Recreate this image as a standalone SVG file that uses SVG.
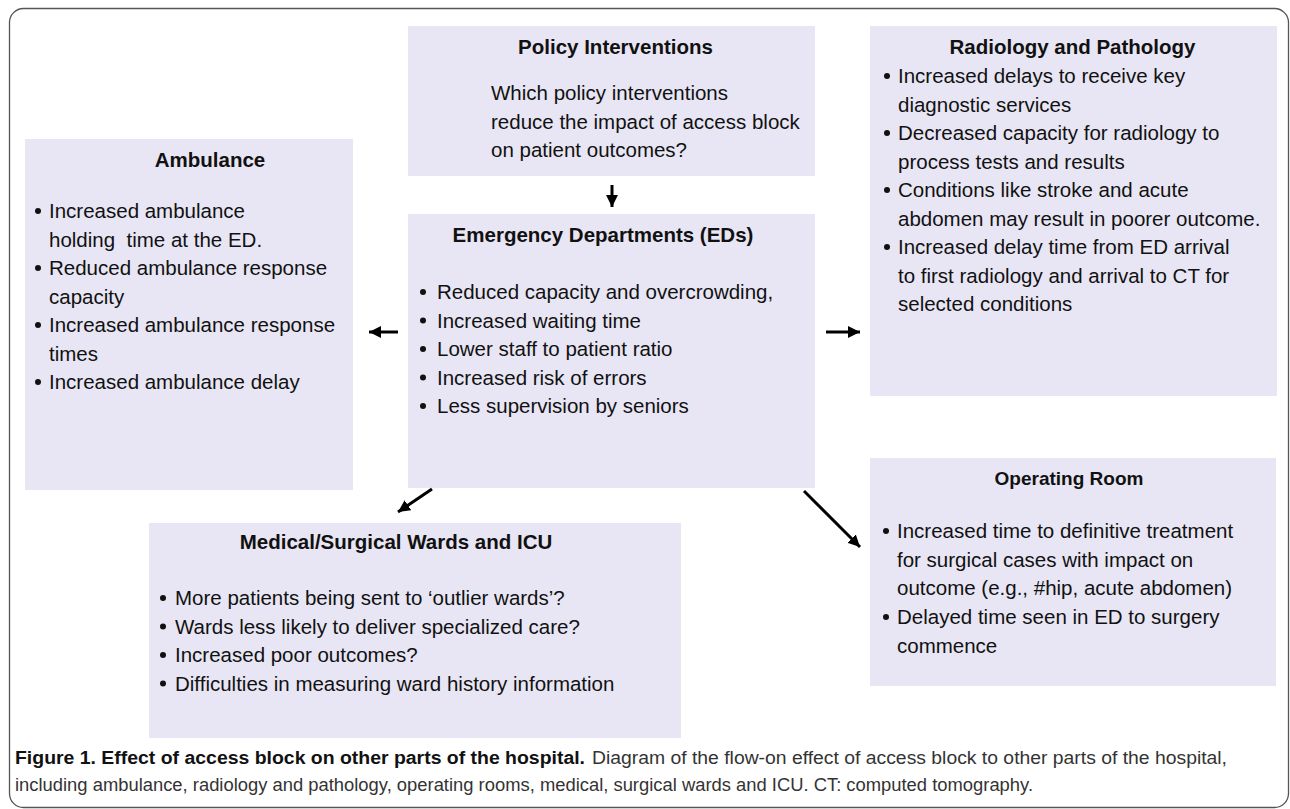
<svg xmlns="http://www.w3.org/2000/svg" width="1290" height="809" viewBox="0 0 1290 809">
<defs>
<style>
.box{fill:#E8E6F4;}
.t{font-family:"Liberation Sans",Arial,sans-serif;font-size:20.5px;font-weight:bold;fill:#111;text-anchor:middle;}
.b{font-family:"Liberation Sans",Arial,sans-serif;font-size:20.5px;fill:#111;}
.d{fill:#111;}
.arr{stroke:#000;stroke-width:3;fill:none;marker-end:url(#ah);}
.cap{font-family:"Liberation Sans",Arial,sans-serif;font-size:17.5px;fill:#333;}
.capb{font-weight:bold;fill:#111;}
</style>
<marker id="ah" markerUnits="userSpaceOnUse" markerWidth="14" markerHeight="12" refX="12" refY="6" orient="auto">
<path d="M0,0 L12,6 L0,12 Z" fill="#000"/>
</marker>
</defs>
<rect x="9.5" y="8.5" width="1279" height="799" rx="14" ry="14" fill="none" stroke="#555" stroke-width="1.3"/>

<g id="policy">
<rect class="box" x="408" y="26" width="407" height="150"/>
<text class="t" x="615.5" y="54">Policy Interventions</text>
<text class="b" x="491" y="100">Which policy interventions</text>
<text class="b" x="491" y="128.5">reduce the impact of access block</text>
<text class="b" x="491" y="157">on patient outcomes?</text>
</g>

<g id="radiology">
<rect class="box" x="870" y="26" width="407" height="370"/>
<text class="t" x="1072.5" y="54">Radiology and Pathology</text>
<circle class="d" cx="887" cy="76" r="3"/>
<text class="b" x="898" y="83">Increased delays to receive key</text>
<text class="b" x="898" y="111.5">diagnostic services</text>
<circle class="d" cx="887" cy="133" r="3"/>
<text class="b" x="898" y="140">Decreased capacity for radiology to</text>
<text class="b" x="898" y="168.5">process tests and results</text>
<circle class="d" cx="887" cy="190" r="3"/>
<text class="b" x="898" y="197">Conditions like stroke and acute</text>
<text class="b" x="898" y="225.5">abdomen may result in poorer outcome.</text>
<circle class="d" cx="887" cy="247" r="3"/>
<text class="b" x="898" y="254">Increased delay time from ED arrival</text>
<text class="b" x="898" y="282.5">to first radiology and arrival to CT for</text>
<text class="b" x="898" y="311">selected conditions</text>
</g>

<g id="ambulance">
<rect class="box" x="25" y="139" width="328" height="351"/>
<text class="t" x="210" y="167">Ambulance</text>
<circle class="d" cx="38" cy="211" r="3"/>
<text class="b" x="49" y="218">Increased ambulance</text>
<text class="b" x="49" y="246.5" xml:space="preserve">holding  time at the ED.</text>
<circle class="d" cx="38" cy="268" r="3"/>
<text class="b" x="49" y="275">Reduced ambulance response</text>
<text class="b" x="49" y="303.5">capacity</text>
<circle class="d" cx="38" cy="325" r="3"/>
<text class="b" x="49" y="332">Increased ambulance response</text>
<text class="b" x="49" y="360.5">times</text>
<circle class="d" cx="38" cy="382" r="3"/>
<text class="b" x="49" y="389">Increased ambulance delay</text>
</g>

<g id="ed">
<rect class="box" x="408" y="214" width="407" height="274"/>
<text class="t" x="603" y="242">Emergency Departments (EDs)</text>
<circle class="d" cx="423" cy="292" r="3"/>
<text class="b" x="437" y="299">Reduced capacity and overcrowding,</text>
<circle class="d" cx="423" cy="320.5" r="3"/>
<text class="b" x="437" y="327.5">Increased waiting time</text>
<circle class="d" cx="423" cy="349" r="3"/>
<text class="b" x="437" y="356">Lower staff to patient ratio</text>
<circle class="d" cx="423" cy="377.5" r="3"/>
<text class="b" x="437" y="384.5">Increased risk of errors</text>
<circle class="d" cx="423" cy="406" r="3"/>
<text class="b" x="437" y="413">Less supervision by seniors</text>
</g>

<g id="wards">
<rect class="box" x="149" y="523" width="532" height="215"/>
<text class="t" x="396" y="549">Medical/Surgical Wards and ICU</text>
<circle class="d" cx="163" cy="598" r="3"/>
<text class="b" x="175" y="605">More patients being sent to ‘outlier wards’?</text>
<circle class="d" cx="163" cy="626.5" r="3"/>
<text class="b" x="175" y="633.5">Wards less likely to deliver specialized care?</text>
<circle class="d" cx="163" cy="655" r="3"/>
<text class="b" x="175" y="662">Increased poor outcomes?</text>
<circle class="d" cx="163" cy="683.5" r="3"/>
<text class="b" x="175" y="690.5">Difficulties in measuring ward history information</text>
</g>

<g id="operating">
<rect class="box" x="870" y="458" width="406" height="228"/>
<text class="t" x="1069" y="485" style="font-size:19px">Operating Room</text>
<circle class="d" cx="886" cy="531" r="3"/>
<text class="b" x="897" y="538">Increased time to definitive treatment</text>
<text class="b" x="897" y="566.7">for surgical cases with impact on</text>
<text class="b" x="897" y="595.4">outcome (e.g., #hip, acute abdomen)</text>
<circle class="d" cx="886" cy="617" r="3"/>
<text class="b" x="897" y="624">Delayed time seen in ED to surgery</text>
<text class="b" x="897" y="652.7">commence</text>
</g>

<g id="connectors">
<line class="arr" x1="612" y1="185" x2="612" y2="207"/>
<line class="arr" x1="398" y1="332" x2="369" y2="332"/>
<line class="arr" x1="826" y1="332" x2="860" y2="332"/>
<line class="arr" x1="432" y1="489" x2="398" y2="512"/>
<line class="arr" x1="804" y1="491" x2="860" y2="547"/>
</g>

<g id="caption">
<text class="cap capb" x="15" y="764" textLength="570" lengthAdjust="spacingAndGlyphs">Figure 1. Effect of access block on other parts of the hospital.</text>
<text class="cap" x="592" y="764" textLength="635" lengthAdjust="spacingAndGlyphs">Diagram of the flow-on effect of access block to other parts of the hospital,</text>
<text class="cap" x="15" y="791" textLength="1018" lengthAdjust="spacingAndGlyphs">including ambulance, radiology and pathology, operating rooms, medical, surgical wards and ICU. CT: computed tomography.</text>
</g>
</svg>
